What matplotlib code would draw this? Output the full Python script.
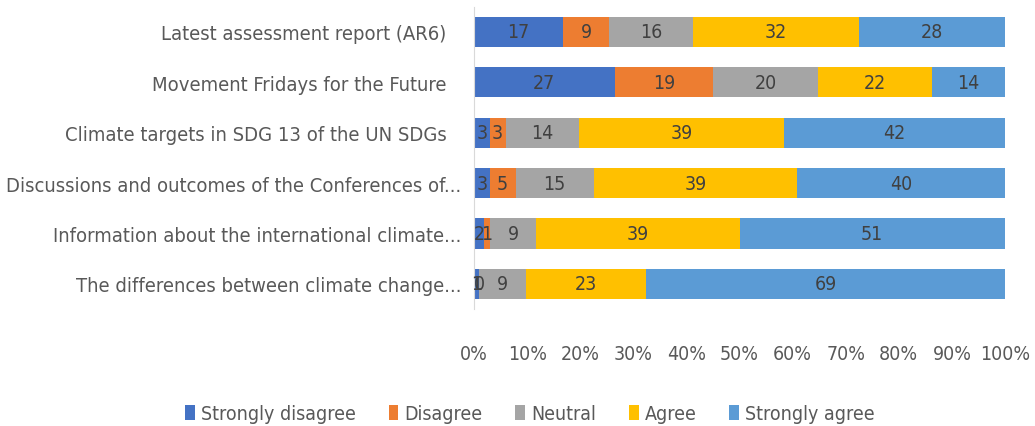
import matplotlib
matplotlib.use("Agg")
import matplotlib.pyplot as plt
import matplotlib.transforms as mtransforms
import numpy as np

topics = ["Latest assessment report (AR6)",
          "Movement Fridays for the Future",
          "Climate targets in SDG 13 of the UN SDGs",
          "Discussions and outcomes of the Conferences of...",
          "Information about the international climate...",
          "The differences between climate change..."]
levels = ["Strongly disagree", "Disagree", "Neutral", "Agree", "Strongly agree"]
colors = ["#4472C4", "#ED7D31", "#A5A5A5", "#FFC000", "#5B9BD5"]

strongly_disagree = [17, 27, 3, 3, 2, 1]
disagree = [9, 19, 3, 5, 1, 0]
neutral = [16, 20, 14, 15, 9, 9]
agree = [32, 22, 39, 39, 39, 23]
strongly_agree = [28, 14, 42, 40, 51, 69]

plt.rcParams['font.family'] = ['DejaVu Sans']
plt.rcParams['font.stretch'] = 'condensed'

vals = np.array([strongly_disagree, disagree, neutral, agree, strongly_agree], dtype=float)
share = vals / vals.sum(axis=0) * 100

fig = plt.figure(figsize=(10.35, 4.27), dpi=100)
ax = fig.add_axes([0.458, 0.274, 0.513, 0.708])

y = np.arange(len(topics))
left = np.zeros(len(topics))
for i in range(len(levels)):
    ax.barh(y, share[i], left=left, height=0.6, color=colors[i], label=levels[i])
    for j in range(len(topics)):
        ax.text(left[j] + share[i][j] / 2, y[j], str(int(vals[i][j])),
                ha='center', va='center', fontsize=14, color='#404040')
    left = left + share[i]

ax.set_ylim(len(topics) - 0.5, -0.5)
ax.set_xlim(0, 100)
ax.set_yticks(y)
ax.set_yticklabels(topics, fontsize=14.5, color='#595959')
ax.set_xticks(np.arange(0, 101, 10))
ax.set_xticklabels([str(t) + "%" for t in range(0, 101, 10)], fontsize=14, color='#595959')
ax.tick_params(axis='both', length=0)
ax.tick_params(axis='x', pad=25)
ax.tick_params(axis='y', pad=20)
for s in ['top', 'right', 'bottom']:
    ax.spines[s].set_visible(False)
ax.spines['left'].set_color('#D9D9D9')

# truncated labels sit closer to the axis
shift = mtransforms.ScaledTranslation(0.15, 0, fig.dpi_scale_trans)
for lab in ax.get_yticklabels():
    if lab.get_text().endswith("..."):
        lab.set_transform(lab.get_transform() + shift)

fig.legend(loc='lower center', bbox_to_anchor=(0.512, -0.035), ncol=5, frameon=False,
           fontsize=14, handlelength=0.5, handleheight=0.8, handletextpad=0.3,
           columnspacing=1.7, labelcolor='#595959')

fig.savefig("out.png", dpi=100)
